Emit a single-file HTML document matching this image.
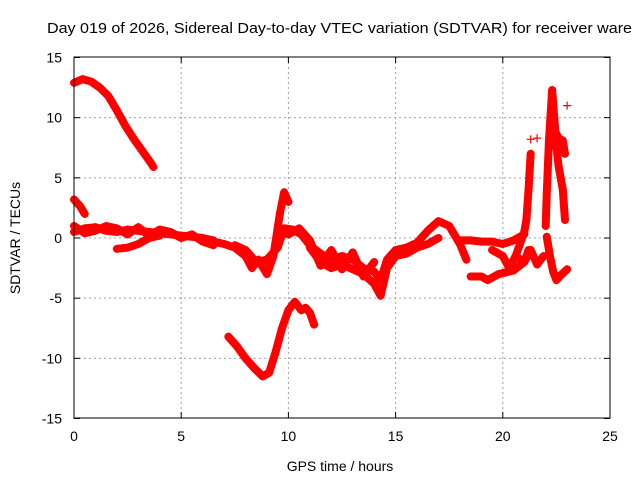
<!DOCTYPE html>
<html><head><meta charset="utf-8"><style>
body{margin:0;background:#fff}
svg{display:block;font-family:"Liberation Sans",sans-serif}
</style></head><body>
<svg id="chart" width="640" height="480" viewBox="0 0 640 480">
<rect width="640" height="480" fill="#fff"/>
<text x="47" y="33" font-size="15" textLength="585" lengthAdjust="spacingAndGlyphs" fill="#000">Day 019 of 2026, Sidereal Day-to-day VTEC variation (SDTVAR) for receiver ware</text>
<g id="grid"></g>
<g id="series"></g>
<rect x="74" y="57" width="536" height="361" fill="none" stroke="#000" stroke-width="1"/>
<g id="ticks"></g>
<text x="340" y="471" font-size="14" text-anchor="middle">GPS time / hours</text>
<text x="20" y="238" font-size="14" text-anchor="middle" transform="rotate(-90 20 238)">SDTVAR / TECUs</text>
</svg>
<script>
const xTicks=[0,5,10,15,20,25];
const yTicks=[15,10,5,0,-5,-10,-15];
const sA_h=[0,0.4,0.8,1.2,1.6,2.0,2.4,2.8,3.2,3.6,3.7];
const sA_v=[12.9,13.2,13.0,12.5,11.8,10.6,9.3,8.2,7.2,6.2,5.9];
const sB_h=[0,0.3,0.5];
const sB_v=[3.2,2.6,2.0];
const sC_h=[7.2,7.6,8.0,8.4,8.8,9.1,9.4,9.7,10.0,10.3,10.6,10.8,11.0,11.2];
const sC_v=[-8.2,-9.0,-10.0,-10.8,-11.5,-11.2,-9.5,-7.5,-6.0,-5.3,-6.0,-5.8,-6.2,-7.2];
const sD1_h=[0,0.5,1,1.5,2,2.5,3,3.5,4,4.5,5,5.5,6,6.5];
const sD1_v=[0.5,0.8,0.9,0.6,0.5,0.7,0.6,0.5,0.4,0.3,0.2,0.1,0,-0.2];
const sD1b_h=[0,0.5,1,1.5,2,2.5,3,3.5,4,4.5,5,5.5,6,6.5];
const sD1b_v=[1.0,0.4,0.6,1.0,0.8,0.3,0.9,0.2,0.7,0.5,0.0,0.3,-0.3,-0.6];
const sD2_h=[2.0,2.5,3.0,3.5,4];
const sD2_v=[-0.9,-0.8,-0.5,0,0.2];
const sD3_h=[6.5,7,7.5,8,8.3,8.6,9.0,9.3,9.6,9.8,10.0];
const sD3_v=[-0.3,-0.5,-0.8,-1.5,-2.5,-1.8,-3.0,-1.5,2.0,3.8,3.0];
const sD4_h=[7.5,8,8.5,9,9.5,9.8];
const sD4_v=[-0.6,-1.0,-2.0,-1.8,-0.8,0.8];
const sD5_h=[9.8,10.2,10.6,11,11.5,12,12.5,13,13.5,14,14.3,14.6,15,15.5,16,16.5,17,17.5,18,18.3];
const sD5_v=[0.8,0.7,0.3,-0.6,-1.3,-1.8,-1.5,-1.8,-2.5,-2.8,-3.5,-1.8,-1.0,-0.8,-0.4,0.6,1.4,1.0,-0.5,-1.8];
const sD5b_h=[10.0,10.5,11,11.5,12,12.5,13,13.5,14];
const sD5b_v=[0.3,0.8,-0.2,-2.3,-1.0,-2.6,-1.2,-3.2,-2.0];
const sD6_h=[11,11.5,12,12.5,13,13.5,14,14.3,14.6,15,15.5,16,16.5,17];
const sD6_v=[-0.8,-2.0,-2.5,-2.2,-2.6,-3.0,-3.8,-4.8,-2.5,-1.5,-1.3,-0.8,-0.5,0.0];
const sD7_h=[18.0,18.5,19,19.5,20,20.5,21];
const sD7_v=[-0.2,-0.2,-0.3,-0.3,-0.5,-0.2,0.3];
const sD8_h=[18.5,19,19.3,19.8,20.5,21,21.2];
const sD8_v=[-3.2,-3.2,-3.5,-3.0,-2.7,-2.0,-1.0];
const sD9_h=[19.5,20,20.3,20.6,21,21.3,21.6,21.9];
const sD9_v=[-1.0,-1.5,-2.5,-1.5,-2.0,-1.0,-2.2,-1.5];
const sE1_h=[20.6,21.0,21.1,21.2,21.3];
const sE1_v=[-1.5,0.5,1.5,4.0,7.0];
const sE2_h=[22.0,22.05,22.15,22.3,22.4,22.5,22.6,22.8,22.9];
const sE2_v=[1.0,3.7,8.0,12.3,10.0,7.6,6.0,4.0,1.5];
const sE3_h=[22.4,22.6,22.8,22.9];
const sE3_v=[9.0,8.3,8.1,7.0];
const sF_h=[22.05,22.2,22.35,22.5,22.7,23.0];
const sF_v=[0.1,-1.5,-2.8,-3.5,-3.1,-2.6];
const sPts_h=[21.6,23.0,21.3];
const sPts_v=[8.3,11.0,8.2];
const seriesH=[sA_h,sB_h,sC_h,sD1_h,sD1b_h,sD2_h,sD3_h,sD4_h,sD5_h,sD5b_h,sD6_h,sD7_h,sD8_h,sD9_h,sE1_h,sE2_h,sE3_h,sF_h];
const seriesV=[sA_v,sB_v,sC_v,sD1_v,sD1b_v,sD2_v,sD3_v,sD4_v,sD5_v,sD5b_v,sD6_v,sD7_v,sD8_v,sD9_v,sE1_v,sE2_v,sE3_v,sF_v];

const X=h=>74+h*(536/25);
const Y=v=>238-v*(361/30);
const NS='http://www.w3.org/2000/svg';
const grid=document.getElementById('grid'),ticks=document.getElementById('ticks'),ser=document.getElementById('series');
function mk(t,a,p){const e=document.createElementNS(NS,t);for(const k in a)e.setAttribute(k,a[k]);p.appendChild(e);return e;}
xTicks.forEach(t=>{
  const x=X(t);
  if(t>0&&t<25){const g=mk('line',{x1:x,x2:x,y1:57,y2:418,stroke:'#a0a0a0','stroke-dasharray':'2,3'},grid);
  
  }
  const a=mk('line',{x1:x,x2:x,y1:418,y2:412,stroke:'#000'},ticks);
  
  
  const b=mk('line',{x1:x,x2:x,y1:57,y2:63,stroke:'#000'},ticks);
  
  
  const l=mk('text',{x:x,y:441,'font-size':14,'text-anchor':'middle'},ticks);l.textContent=t;
  
  
});
yTicks.forEach(t=>{
  const y=Y(t);
  if(t<15&&t>-15){const g=mk('line',{x1:74,x2:610,y1:y,y2:y,stroke:'#a0a0a0','stroke-dasharray':'2,3'},grid);
  
  }
  const a=mk('line',{x1:74,x2:80,y1:y,y2:y,stroke:'#000'},ticks);
  
  
  const b=mk('line',{x1:604,x2:610,y1:y,y2:y,stroke:'#000'},ticks);
  
  
  const l=mk('text',{x:62,y:y+5,'font-size':14,'text-anchor':'end'},ticks);l.textContent=t;
  
  
});
function plus(h,v){
  const x=X(h),y=Y(v);
  const p=mk('path',{d:`M${x-4} ${y}H${x+4}M${x} ${y-4}V${y+4}`,stroke:'#f00','stroke-width':1.2,fill:'none'},ser);
  
  
}
seriesH.forEach((hs,i)=>{
  const vs=seriesV[i];
  const pts=hs.map((h,j)=>X(h)+','+Y(vs[j])).join(' ');
  const pl=mk('polyline',{points:pts,fill:'none',stroke:'#f00','stroke-width':8,'stroke-linejoin':'round','stroke-linecap':'round'},ser);
  
  
  hs.forEach((h,j)=>plus(h,vs[j]));
});
sPts_h.forEach((h,j)=>plus(h,sPts_v[j]));
</script>
</body></html>
